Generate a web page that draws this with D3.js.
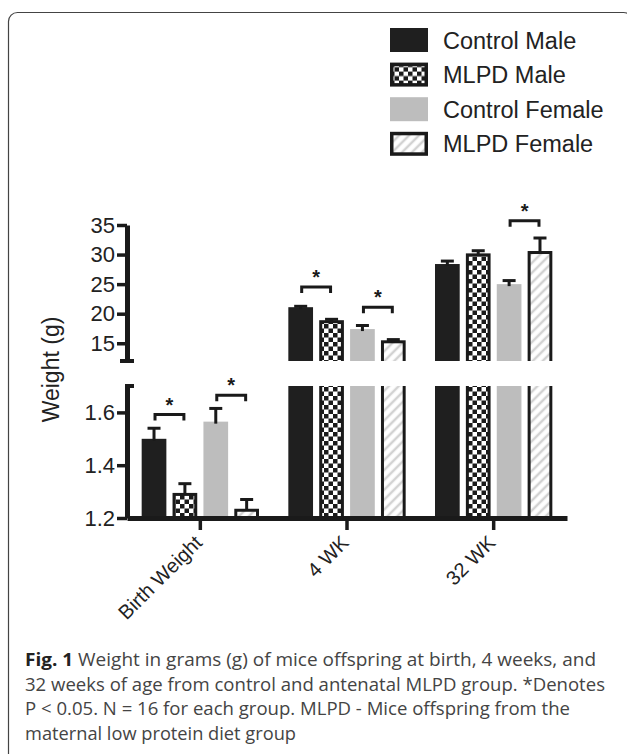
<!DOCTYPE html>
<html>
<head>
<meta charset="utf-8">
<script src="https://cdn.jsdelivr.net/npm/d3@7"></script>
<style>
  body { margin: 0; background: #fff; }
  svg { display: block; }
</style>
</head>
<body>
<div id="chart"></div>
<script>
// Data
const groups = ["Birth Weight", "4 WK", "32 WK"];
const seriesNames = ["Control Male", "MLPD Male", "Control Female", "MLPD Female"];
const controlMale = [1.50, 21.1, 28.4];
const mlpdMale = [1.295, 18.9, 30.2];
const controlFemale = [1.565, 17.4, 25.0];
const mlpdFemale = [1.235, 15.5, 30.6];
const semControlMale = [0.04, 0.15, 0.5];
const semMlpdMale = [0.035, 0.15, 0.45];
const semControlFemale = [0.05, 0.6, 0.6];
const semMlpdFemale = [0.035, 0.12, 2.2];
const upperTicks = [15, 20, 25, 30, 35];
const lowerTicks = [1.2, 1.4, 1.6];
// significance brackets: group, first series, second series, bracket level (g)
const sigGroup = ["Birth Weight", "Birth Weight", "4 WK", "4 WK", "32 WK"];
const sigFrom = [0, 2, 0, 2, 2];
const sigTo = [1, 3, 1, 3, 3];
const sigLevel = [1.592, 1.665, 24.5, 21.1, 35.7];

const means = [controlMale, mlpdMale, controlFemale, mlpdFemale];
const sems = [semControlMale, semMlpdMale, semControlFemale, semMlpdFemale];

const W = 627, H = 754;
const ink = "#1a1a1a";
const font = "Liberation Sans, Arial, Helvetica, sans-serif";
const svg = d3.select("#chart").append("svg").attr("width", W).attr("height", H);

// patterns
const defs = svg.append("defs");
const checker = defs.append("pattern").attr("id", "checker")
  .attr("patternUnits", "userSpaceOnUse").attr("width", 9).attr("height", 9);
checker.append("rect").attr("width", 9).attr("height", 9).attr("fill", "#fff");
checker.append("rect").attr("width", 4.5).attr("height", 4.5).attr("fill", ink);
checker.append("rect").attr("x", 4.5).attr("y", 4.5).attr("width", 4.5).attr("height", 4.5).attr("fill", ink);

const hatch = defs.append("pattern").attr("id", "hatch")
  .attr("patternUnits", "userSpaceOnUse").attr("width", 7).attr("height", 7)
  .attr("patternTransform", "rotate(45)");
hatch.append("rect").attr("width", 7).attr("height", 7).attr("fill", "#fff");
hatch.append("line").attr("x1", 2).attr("x2", 2).attr("y1", 0).attr("y2", 7)
  .attr("stroke", "#d2d2d2").attr("stroke-width", 2.5);

const fills = ["#1f1f1f", "url(#checker)", "#bdbdbd", "url(#hatch)"];
const outlined = [false, true, false, true];

// frame
svg.append("rect").attr("x", 8.5).attr("y", 12.5).attr("width", 624).attr("height", 800)
  .attr("rx", 9).attr("fill", "none").attr("stroke", "#444").attr("stroke-width", 1.2);

// scales
const x0 = d3.scaleBand().domain(groups).range([127, 567]).paddingInner(0.2).paddingOuter(0.1);
const x1 = d3.scaleBand().domain(d3.range(4)).range([0, x0.bandwidth()]).paddingInner(0.2);
const yUpper = d3.scaleLinear().domain([12, 35]).range([361, 225]);
const yLower = d3.scaleLinear().domain([1.2, 1.7]).range([518, 386]);
const lowerMax = yLower.domain()[1];

defs.append("clipPath").attr("id", "clipUpper").append("rect")
  .attr("x", 0).attr("y", 0).attr("width", W).attr("height", yUpper(yUpper.domain()[0]));
defs.append("clipPath").attr("id", "clipLower").append("rect")
  .attr("x", 0).attr("y", yLower(lowerMax)).attr("width", W)
  .attr("height", yLower(yLower.domain()[0]) - yLower(lowerMax));

// build bar records
const bars = [];
groups.forEach((g, gi) => {
  means.forEach((arr, si) => {
    bars.push({ group: g, s: si, value: arr[gi], sem: sems[si][gi] });
  });
});

const gUpper = svg.append("g").attr("clip-path", "url(#clipUpper)");
const gLower = svg.append("g").attr("clip-path", "url(#clipLower)");

function drawBar(sel, d, top, bottom) {
  const bx = x0(d.group) + x1(d.s);
  const bw = x1.bandwidth();
  const ins = outlined[d.s] ? 1.5 : 0;
  sel.append("rect")
    .attr("x", bx + ins).attr("width", bw - 2 * ins)
    .attr("y", top + ins).attr("height", Math.max(0, bottom - top - ins))
    .attr("fill", fills[d.s])
    .attr("stroke", outlined[d.s] ? ink : "none")
    .attr("stroke-width", 3);
}

bars.forEach(d => {
  if (d.value > lowerMax) {
    drawBar(gUpper, d, yUpper(d.value), yUpper.range()[0] + 10);
    drawBar(gLower, d, yLower(lowerMax) - 10, yLower.range()[0]);
  } else {
    drawBar(gLower, d, yLower(d.value), yLower.range()[0]);
  }
});

// error bars (upper only)
const errG = svg.append("g").attr("stroke", ink).attr("stroke-width", 3);
bars.forEach(d => {
  const y = d.value > lowerMax ? yUpper : yLower;
  const cx = x0(d.group) + x1(d.s) + x1.bandwidth() / 2;
  const top = y(d.value + d.sem);
  errG.append("line").attr("x1", cx).attr("x2", cx).attr("y1", y(d.value) + 2).attr("y2", top);
  errG.append("line").attr("x1", cx - 6.5).attr("x2", cx + 6.5).attr("y1", top).attr("y2", top);
});

// significance brackets
const sigG = svg.append("g");
sigGroup.forEach((g, i) => {
  const gi = groups.indexOf(g);
  const y = means[0][gi] > lowerMax ? yUpper : yLower;
  const xa = x0(g) + x1(sigFrom[i]) + x1.bandwidth() / 2 + 1;
  const xb = x0(g) + x1(sigTo[i]) + x1.bandwidth() / 2 - 1;
  const yy = y(sigLevel[i]);
  sigG.append("path")
    .attr("d", `M${xa},${yy + 6}V${yy}H${xb}V${yy + 6}`)
    .attr("fill", "none").attr("stroke", ink).attr("stroke-width", 3);
  sigG.append("text").attr("x", (xa + xb) / 2).attr("y", yy - 3)
    .attr("text-anchor", "middle")
    .style("font-family", font)
    .style("font-size", "20px").style("font-weight", "bold").style("fill", ink)
    .text("*");
});

// axes
function styleAxis(g) {
  g.select(".domain").style("stroke", ink).style("stroke-width", "5px");
  g.selectAll(".tick line").style("stroke", ink).style("stroke-width", "3.5px");
  g.selectAll(".tick text").style("font-family", font).style("font-size", "22px").style("fill", "#222");
}
const axX = 127;
svg.append("g").attr("transform", `translate(${axX},0)`)
  .call(d3.axisLeft(yUpper).tickValues(upperTicks).tickSize(10).tickSizeOuter(0).tickPadding(2))
  .call(styleAxis);
svg.append("g").attr("transform", `translate(${axX},0)`)
  .call(d3.axisLeft(yLower).tickValues(lowerTicks).tickFormat(d3.format(".1f")).tickSize(10).tickSizeOuter(0).tickPadding(2))
  .call(styleAxis);

// break caps
svg.append("line").attr("x1", axX - 7).attr("x2", axX + 7)
  .attr("y1", yUpper.range()[0]).attr("y2", yUpper.range()[0])
  .attr("stroke", ink).attr("stroke-width", 4);
svg.append("line").attr("x1", axX - 2).attr("x2", axX + 7)
  .attr("y1", yLower(lowerMax)).attr("y2", yLower(lowerMax))
  .attr("stroke", ink).attr("stroke-width", 4);

const xAxisG = svg.append("g").attr("transform", `translate(0,${yLower.range()[0]})`)
  .call(d3.axisBottom(x0).tickSize(12).tickSizeOuter(0))
  .call(styleAxis);
xAxisG.selectAll(".tick text")
  .attr("x", 0).attr("y", 0).attr("dy", 0)
  .style("font-size", "20px")
  .attr("text-anchor", "end")
  .attr("transform", "translate(3,26) rotate(-45)");

// y label
svg.append("text")
  .attr("transform", `translate(59,${(yUpper(35) + yLower(1.2)) / 2 - 2}) rotate(-90)`)
  .attr("text-anchor", "middle")
  .style("font-family", font)
  .style("font-size", "23px").style("fill", "#222")
  .text("Weight (g)");

// legend
const legend = svg.append("g").attr("transform", "translate(390,28)");
seriesNames.forEach((name, i) => {
  const row = legend.append("g").attr("transform", `translate(0,${i * 34.6})`);
  const ins = outlined[i] ? 1.75 : 0;
  row.append("rect").attr("x", ins).attr("y", ins)
    .attr("width", 38 - 2 * ins).attr("height", 24 - 2 * ins)
    .attr("fill", fills[i])
    .attr("stroke", outlined[i] ? ink : "none").attr("stroke-width", 3.5);
  row.append("text").attr("x", 53).attr("y", 20.5)
    .style("font-family", font)
    .style("font-size", "23.5px").style("fill", "#222")
    .text(name);
});

// caption
const captionLines = [
  " Weight in grams (g) of mice offspring at birth, 4 weeks, and",
  "32 weeks of age from control and antenatal MLPD group. *Denotes",
  "P < 0.05. N = 16 for each group. MLPD - Mice offspring from the",
  "maternal low protein diet group"
];
const captionWidths = [571, 580, 545, 271];
captionLines.forEach((line, i) => {
  const t = svg.append("text").attr("x", 25).attr("y", 666 + i * 24.5)
    .attr("textLength", captionWidths[i]).attr("lengthAdjust", "spacingAndGlyphs")
    .style("font-family", "Open Sans, sans-serif")
    .style("font-size", "18px").style("fill", "#444");
  if (i === 0) t.append("tspan").style("font-weight", "bold").style("fill", "#222").text("Fig. 1");
  t.append("tspan").text(line);
});
</script>
</body>
</html>
